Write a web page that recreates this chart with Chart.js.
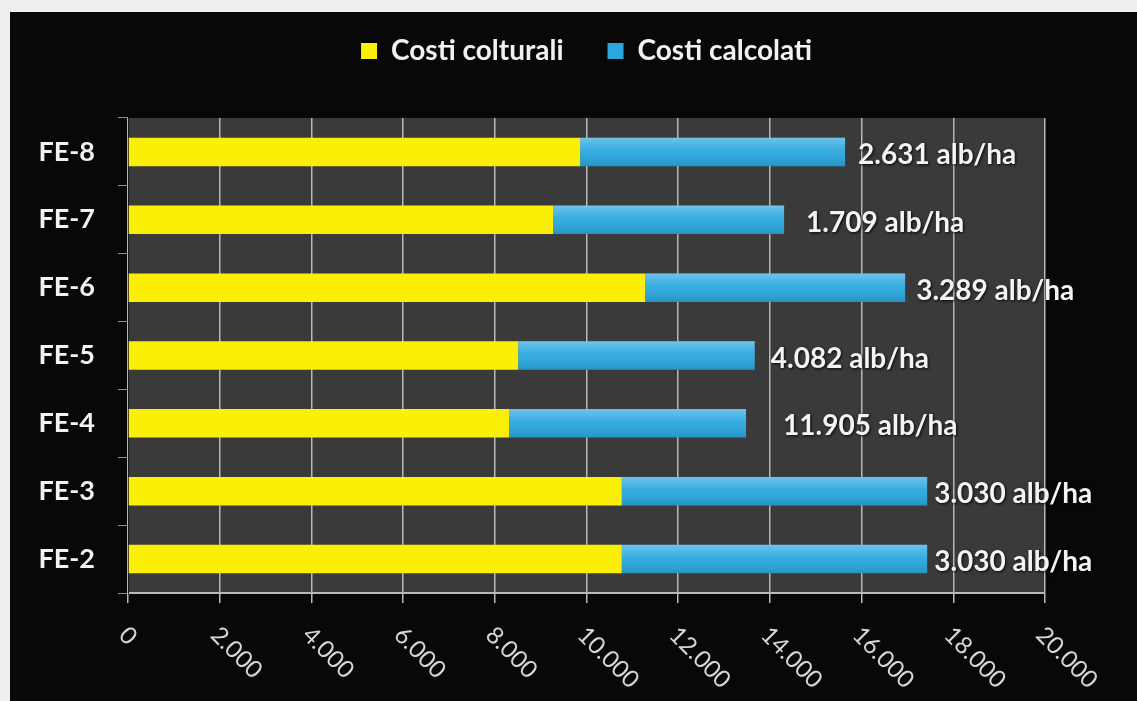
<!DOCTYPE html>
<html>
<head>
<meta charset="utf-8">
<script src="https://cdn.jsdelivr.net/npm/chart.js@4/dist/chart.umd.min.js"></script>
<style>
  body { margin: 0; background: #efefef; }
  #panel { position: absolute; left: 10px; top: 12px; width: 1127px; height: 689px; background: #080808; }
</style>
</head>
<body>
<div id="panel"><canvas id="costChart" width="1127" height="689"></canvas></div>
<script>
// categories, bottom of the list is drawn at the bottom of the chart
const categories = ["FE-8", "FE-7", "FE-6", "FE-5", "FE-4", "FE-3", "FE-2"];
const costiColturali = [9860, 9270, 11280, 8510, 8310, 10770, 10770];
const costiCalcolati = [5780, 5040, 5670, 5160, 5170, 6660, 6660];
// plant density written after each bar
const densita = [2631, 1709, 3289, 4082, 11905, 3030, 3030];
const xTicks = [0, 2000, 4000, 6000, 8000, 10000, 12000, 14000, 16000, 18000, 20000];

// horizontal gap between bar end and its label
const labelGap = [13, 22, 11, 16, 37, 7, 7];

const FONT = "Lato, 'Open Sans', sans-serif";

// 2631 -> "2.631"
function itNumber(n) {
  return String(n).replace(/\B(?=(\d{3})+(?!\d))/g, ".");
}

// plot area fill
const plotBackground = {
  id: "plotBackground",
  beforeDraw(chart) {
    const { ctx, chartArea } = chart;
    ctx.save();
    ctx.fillStyle = "#3a3a3a";
    ctx.fillRect(chartArea.left, chartArea.top, chartArea.right - chartArea.left, chartArea.bottom - chartArea.top);
    ctx.restore();
  },
};

// glossy top on the blue bars + density labels
const barExtras = {
  id: "barExtras",
  afterDatasetsDraw(chart) {
    const ctx = chart.ctx;
    const blue = chart.getDatasetMeta(1).data;
    ctx.save();
    blue.forEach((bar) => {
      const top = bar.y - bar.height / 2;
      const g = ctx.createLinearGradient(0, top, 0, top + bar.height);
      g.addColorStop(0, "rgba(255,255,255,0.32)");
      g.addColorStop(0.45, "rgba(255,255,255,0.06)");
      g.addColorStop(1, "rgba(0,0,0,0.12)");
      ctx.fillStyle = g;
      ctx.fillRect(bar.base, top, bar.x - bar.base, bar.height);
    });
    ctx.font = "bold 28px " + FONT;
    ctx.fillStyle = "#f4f4f4";
    ctx.textAlign = "left";
    ctx.textBaseline = "middle";
    ctx.shadowColor = "rgba(0,0,0,0.9)";
    ctx.shadowBlur = 3;
    ctx.shadowOffsetX = 1;
    ctx.shadowOffsetY = 1;
    blue.forEach((bar, i) => {
      ctx.fillText(itNumber(densita[i]) + " alb/ha", bar.x + labelGap[i], bar.y + 3);
    });
    ctx.restore();
  },
};

// x tick labels, turned 45 degrees clockwise
const slantedTicks = {
  id: "slantedTicks",
  afterDraw(chart) {
    const ctx = chart.ctx;
    const x = chart.scales.x;
    ctx.save();
    ctx.font = "24px " + FONT;
    ctx.fillStyle = "#d6d6d6";
    ctx.textAlign = "left";
    ctx.textBaseline = "middle";
    xTicks.forEach((v) => {
      ctx.save();
      ctx.translate(x.getPixelForValue(v) - 5, x.top + 38);
      ctx.rotate(Math.PI / 4);
      ctx.fillText(itNumber(v), 0, 0);
      ctx.restore();
    });
    ctx.restore();
  },
};

function createCostChart() {
  const ctx = document.getElementById("costChart").getContext("2d");

  const data = {
    labels: categories,
    datasets: [
      {
        label: "Costi colturali",
        data: costiColturali,
        backgroundColor: "#fbef07",
        categoryPercentage: 0.42,
        barPercentage: 1,
      },
      {
        label: "Costi calcolati",
        data: costiCalcolati,
        backgroundColor: "#2aa7df",
        categoryPercentage: 0.42,
        barPercentage: 1,
      },
    ],
  };

  const config = {
    type: "bar",
    data: data,
    options: {
      indexAxis: "y",
      responsive: false,
      animation: false,
      layout: {
        padding: { top: -19, right: 92, bottom: 98, left: 0 },
      },
      scales: {
        x: {
          stacked: true,
          min: 0,
          max: 20000,
          ticks: { stepSize: 2000, display: false },
          grid: { color: "#b8b8b8", lineWidth: 1.5, tickLength: 10 },
          border: { color: "#b8b8b8", width: 2 },
        },
        y: {
          stacked: true,
          afterFit(scale) {
            scale.width = 118;
          },
          ticks: {
            color: "#f2f2f2",
            padding: 23,
            font: { family: FONT, size: 27, weight: "bold" },
          },
          grid: { drawOnChartArea: false, tickLength: 10, color: "#8c8c8c", offset: true },
          border: { color: "#1a1a1a" },
        },
      },
      plugins: {
        legend: {
          position: "top",
          fullSize: false,
          labels: {
            color: "#f2f2f2",
            boxWidth: 16,
            boxHeight: 16,
            padding: 44,
            font: { family: FONT, size: 28, weight: "bold" },
          },
        },
        // empty box that keeps space between legend and plot
        subtitle: {
          display: true,
          text: "",
          fullSize: false,
          weight: 500,
          font: { size: 10 },
          padding: { top: 0, bottom: 31 },
        },
        tooltip: { enabled: false },
      },
    },
    plugins: [plotBackground, barExtras, slantedTicks],
  };

  const costChart = new Chart(ctx, config);
}

createCostChart();
</script>
</body>
</html>
